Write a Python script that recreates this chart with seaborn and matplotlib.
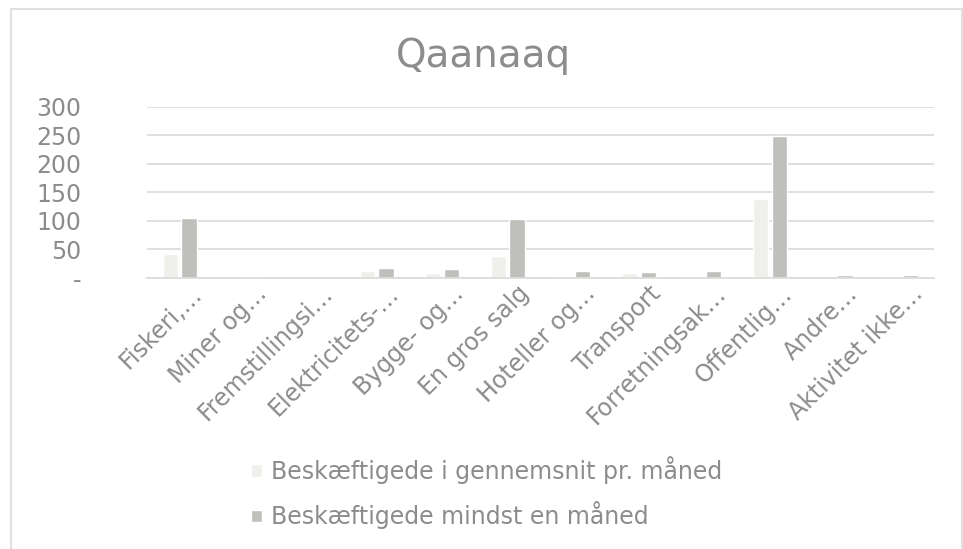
import matplotlib
matplotlib.use("Agg")
import matplotlib.pyplot as plt
import matplotlib.transforms as mtransforms
import seaborn as sns
import pandas as pd
from matplotlib.patches import Rectangle

categories = ["Fiskeri,…", "Miner og…", "Fremstillingsi…", "Elektricitets-…",
              "Bygge- og…", "En gros salg", "Hoteller og…", "Transport",
              "Forretningsak…", "Offentlig…", "Andre…", "Aktivitet ikke…"]
avg_month = [42, 0, 0, 12, 9, 39, 3, 8, 4, 139, 0, 4]
min_one_month = [105, 1, 0, 18, 15, 103, 13, 11, 13, 249, 6, 6]
series_names = ["Beskæftigede i gennemsnit pr. måned", "Beskæftigede mindst en måned"]
yticks = [0, 50, 100, 150, 200, 250, 300]
ytick_labels = ["-", "50", "100", "150", "200", "250", "300"]

df = pd.DataFrame({
    "cat": categories * 2,
    "val": avg_month + min_one_month,
    "serie": [series_names[0]] * len(categories) + [series_names[1]] * len(categories),
})

sns.set_style("white")
plt.rcParams['font.family'] = ['DejaVu Sans']
grey = "#8c8c8c"

fig = plt.figure(figsize=(9.63, 5.49), dpi=100)
ax = fig.add_axes([147/963, 1-278/549, (934-147)/963, (278-106.7)/549])

sns.barplot(data=df, x="cat", y="val", hue="serie", ax=ax,
            palette=["#f0f0ea", "#c0c1ba"], width=0.57, gap=0.18,
            legend=True, errorbar=None)

ax.set_ylim(0, 300)
ax.set_xlim(-0.5, len(categories) - 0.5)
ax.set_yticks(yticks)
ax.set_yticklabels(ytick_labels)
ax.yaxis.grid(True, color="#dcdcdc", linewidth=1.3)
ax.set_axisbelow(True)
for s in ["top", "right", "left"]:
    ax.spines[s].set_visible(False)
ax.spines["bottom"].set_color("#dcdcdc")
ax.spines["bottom"].set_linewidth(1.3)
ax.tick_params(axis="y", length=0, pad=47, labelsize=17, labelcolor=grey)
ax.tick_params(axis="x", length=0, pad=8.6, labelsize=17, labelcolor=grey)
# shift the rotated labels a bit to the right, like Excel does
shift = mtransforms.ScaledTranslation(0.18, 0, fig.dpi_scale_trans)
for lab in ax.get_xticklabels():
    lab.set_rotation(45)
    lab.set_ha("right")
    lab.set_va("center")
    lab.set_rotation_mode("anchor")
    lab.set_transform(lab.get_transform() + shift)
ax.set_xlabel("")
ax.set_ylabel("")

handles, labels = ax.get_legend_handles_labels()
ax.get_legend().remove()
fig.legend(handles, labels, loc="upper left", bbox_to_anchor=(230/963, 1-435/549),
           frameon=False, fontsize=17, labelcolor=grey, handlelength=0.45,
           handleheight=0.45, handletextpad=0.4, labelspacing=0.73)

fig.text(483/963, 1-56/549, "Qaanaaq", ha="center", va="center", fontsize=28, color=grey)

fig.patches.append(Rectangle((11/963, -0.05), (962-11)/963, 1.05-8.5/549,
                             transform=fig.transFigure, fill=False,
                             edgecolor="#e0e0e0", linewidth=1.5))

fig.savefig("out.png", dpi=100)
